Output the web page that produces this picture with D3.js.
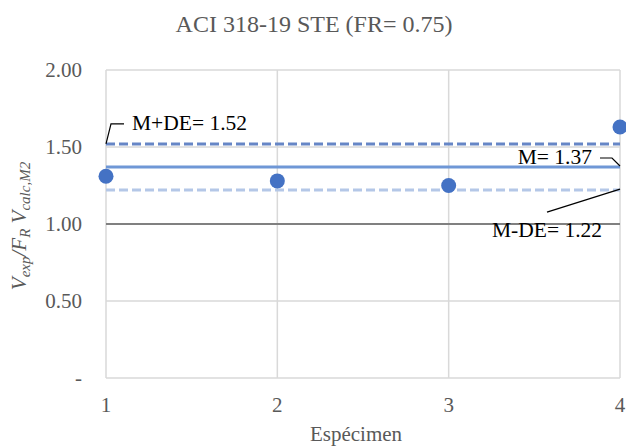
<!DOCTYPE html>
<html><head><meta charset="utf-8">
<script src="https://cdn.jsdelivr.net/npm/d3@7"></script>
<style>body{margin:0;background:#fff} text{font-family:'Liberation Serif','Times New Roman',serif}</style>
</head><body><svg id="c" width="626" height="446"></svg>
<script>
const specimens = [1, 2, 3, 4];
const ratios = [1.31, 1.28, 1.25, 1.63];
const yTicks = [0, 0.5, 1.0, 1.5, 2.0];
const yTickLabels = ["-", "0.50", "1.00", "1.50", "2.00"];
const refNames = ["M+DE", "M", "M-DE"];
const refValues = [1.52, 1.37, 1.22];
const title = "ACI 318-19 STE (FR= 0.75)";

const FONT = "Liberation Serif, Times New Roman, serif";
const svg = d3.select("#c");
const L = 106, R = 620, T = 70, B = 378;
const x = d3.scaleLinear().domain([1, 4]).range([L, R]);
const y = d3.scaleLinear().domain([0, 2]).range([B, T]);

svg.append("g").selectAll("line").data(yTicks.filter(d => d !== 0 && d !== 1)).join("line")
  .attr("x1", L).attr("x2", R).attr("y1", d => y(d)).attr("y2", d => y(d))
  .attr("stroke", "#d9d9d9").attr("stroke-width", 1.3);
svg.append("g").selectAll("line").data(specimens).join("line")
  .attr("x1", d => x(d)).attr("x2", d => x(d)).attr("y1", T).attr("y2", B)
  .attr("stroke", "#d9d9d9").attr("stroke-width", 1.5);
svg.append("line").attr("x1", L).attr("x2", R).attr("y1", B).attr("y2", B).attr("stroke", "#d9d9d9").attr("stroke-width", 1.5);
svg.append("line").attr("x1", L).attr("x2", R).attr("y1", y(1)).attr("y2", y(1)).attr("stroke", "#808080").attr("stroke-width", 1.8);

const refStyles = [
  {c: "#6686c6", dash: "9,4", w: 3},
  {c: "#6f97d6", dash: null, w: 3},
  {c: "#b4c7e7", dash: "9,4", w: 3}
];
refValues.forEach((v, i) => {
  const l = svg.append("line").attr("x1", L).attr("x2", R).attr("y1", y(v)).attr("y2", y(v))
    .attr("stroke", refStyles[i].c).attr("stroke-width", refStyles[i].w);
  if (refStyles[i].dash) l.attr("stroke-dasharray", refStyles[i].dash);
});

svg.append("g").selectAll("circle").data(specimens).join("circle")
  .attr("cx", d => x(d)).attr("cy", (d, i) => y(ratios[i])).attr("r", 7.5)
  .attr("fill", "#4472c4");

svg.append("g").selectAll("text").data(yTicks).join("text")
  .attr("font-family", FONT)
  .attr("x", 82).attr("y", d => y(d) + 7).attr("text-anchor", "end")
  .attr("font-size", 21).attr("fill", "#595959").text((d, i) => yTickLabels[i]);
svg.append("g").selectAll("text").data(specimens).join("text")
  .attr("font-family", FONT)
  .attr("x", d => x(d)).attr("y", 412).attr("text-anchor", "middle")
  .attr("font-size", 21).attr("fill", "#595959").text(d => d);

svg.append("text").attr("font-family", FONT).attr("x", 314).attr("y", 32).attr("text-anchor", "middle")
  .attr("font-size", 24).attr("fill", "#595959").text(title);
svg.append("text").attr("font-family", FONT).attr("x", 356).attr("y", 441).attr("text-anchor", "middle")
  .attr("font-size", 21).attr("fill", "#595959").text("Espécimen");

const yl = svg.append("text").attr("font-family", FONT).attr("transform", "translate(26,226) rotate(-90)")
  .attr("text-anchor", "middle").attr("font-size", 21).attr("fill", "#595959").attr("font-style", "italic");
yl.append("tspan").text("V");
yl.append("tspan").attr("font-size", 15).attr("dy", 4).text("exp");
yl.append("tspan").attr("dy", -4).text("/F");
yl.append("tspan").attr("font-size", 15).attr("dy", 4).text("R");
yl.append("tspan").attr("dy", -4).text(" V");
yl.append("tspan").attr("font-size", 15).attr("dy", 4).text("calc,M2");

const fmt = d3.format(".2f");
svg.append("path").attr("d", `M${x(1)},${y(refValues[0])} L${x(1)+5},${y(refValues[0])-20} L${x(1)+18},${y(refValues[0])-20}`)
  .attr("fill", "none").attr("stroke", "#000").attr("stroke-width", 1.2);
svg.append("text").attr("font-family", FONT).attr("x", x(1)+26).attr("y", y(refValues[0])-14).attr("font-size", 21.5).attr("fill", "#000")
  .text(refNames[0] + "= " + fmt(refValues[0]));

svg.append("path").attr("d", `M${x(4)-20},${y(refValues[1])-9} L${x(4)-8},${y(refValues[1])-9} L${x(4)},${y(refValues[1])-1}`)
  .attr("fill", "none").attr("stroke", "#000").attr("stroke-width", 1.2);
svg.append("text").attr("font-family", FONT).attr("x", x(4)-28).attr("y", y(refValues[1])-3).attr("text-anchor", "end").attr("font-size", 21.5).attr("fill", "#000")
  .text(refNames[1] + "= " + fmt(refValues[1]));

svg.append("path").attr("d", `M${x(4)},${y(refValues[2])-1} L${x(4)-73},${y(refValues[2])+22}`)
  .attr("fill", "none").attr("stroke", "#000").attr("stroke-width", 1.2);
svg.append("text").attr("font-family", FONT).attr("x", 547).attr("y", y(refValues[2])+47).attr("text-anchor", "middle").attr("font-size", 21.5).attr("fill", "#000")
  .text(refNames[2] + "= " + fmt(refValues[2]));
</script></body></html>
